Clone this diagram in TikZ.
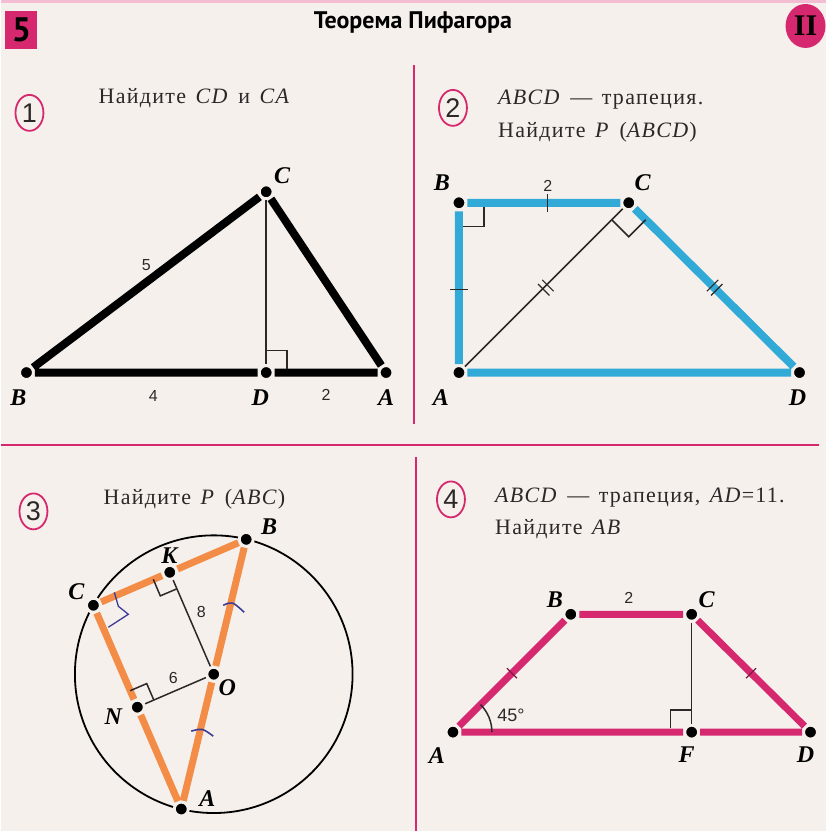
\documentclass[tikz,border=0pt]{standalone}
\usepackage{fontspec}
\setmainfont{Liberation Serif}
\setsansfont{Liberation Sans}
\newfontfamily\titlefont{PT Sans}
\newfontfamily\bodyfont[LetterSpace=6,WordSpace=1.4]{Liberation Serif}
\usetikzlibrary{calc,shapes.geometric}
\definecolor{bgc}{RGB}{245,240,235}
\definecolor{mag}{RGB}{214,40,110}
\definecolor{cyanl}{RGB}{50,170,215}
\definecolor{orng}{RGB}{242,140,70}
\definecolor{inkc}{RGB}{45,40,40}
\definecolor{penc}{RGB}{60,60,150}
\begin{document}
\begin{tikzpicture}[x=1pt,y=-1pt,
  pnt/.style={circle,fill=black,draw=bgc,line width=3pt,inner sep=0pt,minimum size=14pt},
  lbl/.style={font=\fontsize{24}{24}\selectfont\bfseries\itshape,text=black,inner sep=0pt},
  num/.style={font=\sffamily\fontsize{16}{16}\selectfont,text=inkc,inner sep=0pt},
  txt/.style={font=\bodyfont\fontsize{22}{26}\selectfont,text=inkc,anchor=west,inner sep=0pt},
  task/.style={draw=mag,line width=1.8pt,ellipse,minimum width=28pt,minimum height=36pt,inner sep=0pt,
    font=\sffamily\fontsize{27}{27}\selectfont,text=inkc},
  side/.style={line width=8pt},
  fine/.style={line width=1.5pt,draw=inkc},
  tick/.style={line width=1.2pt,draw=inkc},
  divider/.style={line width=2pt,draw=mag}]
\fill[bgc] (0,0) rectangle (825,832);
\draw[line width=3pt,mag!30] (0,1.5) -- (825,1.5);
\node[fill=mag,minimum width=32pt,minimum height=38pt,inner sep=0pt,
  font=\titlefont\bfseries\fontsize{34}{34}\selectfont] (sheet) at (20,30) {5};
\node[font=\titlefont\bfseries\fontsize{24}{24}\selectfont] (title) at (412,23) {Теорема Пифагора};
\node[fill=mag,ellipse,minimum width=40pt,minimum height=44pt,inner sep=0pt,
  font=\bfseries\fontsize{30}{30}\selectfont] (part) at (805,26) {II};
\draw[divider] (413,65) -- (413,425);
\draw[divider] (0,446) -- (818,446);
\draw[divider] (415,458) -- (415,832);

% 1
\node[task] (t1) at (28,113) {1};
\node[txt] (q1) at (97,98) {Найдите \textit{CD} и \textit{CA}};
\node[pnt] (C1) at (265,192) {};
\node[pnt] (B1) at (25,373) {};
\node[pnt] (D1) at (265,373) {};
\node[pnt] (A1) at (385,373) {};
\draw[side] (B1) -- (C1) (C1) -- (A1) (B1) -- (D1) (D1) -- (A1);
\draw[fine] (C1) -- (D1);
\draw[fine] (265,351) -- (286,351) -- (286,369);
\node[lbl] (lC1) at (281,176) {C};
\node[lbl] (lB1) at (17,398) {B};
\node[lbl] (lD1) at (259,398) {D};
\node[lbl] (lA1) at (385,398) {A};
\node[num] (s5) at (145,265) {5};
\node[num] (s4) at (152,396) {4};
\node[num] (s2) at (325,395) {2};

% 2
\node[task] (t2) at (452,108) {2};
\node[txt] (q2a) at (497,100) {\textit{ABCD} — трапеция.};
\node[txt] (q2b) at (497,132) {Найдите \textit{P} (\textit{ABCD})};
\node[pnt] (B2) at (458,203) {};
\node[pnt] (C2) at (628,203) {};
\node[pnt] (A2) at (458,373) {};
\node[pnt] (D2) at (799,373) {};
\draw[side,cyanl] (A2) -- (B2) (B2) -- (C2) (C2) -- (D2) (A2) -- (D2);
\draw[fine] (A2) -- (C2);
\draw[fine] (462,227) -- (483,227) -- (483,207);
\draw[fine] (611,220) -- (628,237) -- (645,220);
\draw[tick] (547,194) -- (547,212);
\draw[tick] (449,290) -- (467,290);
\draw[tick] (541.4,280.2) -- (552.8,291.6) (537.2,284.4) -- (548.6,295.8);
\draw[tick] (710.4,295.8) -- (721.8,284.4) (706.2,291.6) -- (717.6,280.2);
\node[lbl] (lB2) at (441,183) {B};
\node[lbl] (lC2) at (642,183) {C};
\node[lbl] (lA2) at (440,398) {A};
\node[lbl] (lD2) at (797,398) {D};
\node[num] (s2b) at (547,186) {2};

% 3
\node[task] (t3) at (32,512) {3};
\node[txt] (q3) at (102,500) {Найдите \textit{P} (\textit{ABC})};
\coordinate (ctr) at (212.5,675);
\draw[line width=1.8pt] (ctr) circle[radius=139];
\node[pnt] (O3) at (212.5,675) {};
\node[pnt] (B3) at (245,540) {};
\node[pnt] (A3) at (180,810) {};
\node[pnt] (C3) at (92,606) {};
\node[pnt] (K3) at (168.5,573) {};
\node[pnt] (N3) at (136,708) {};
\draw[side,orng,line width=7pt] (C3) -- (K3) (K3) -- (B3) (C3) -- (N3) (N3) -- (A3) (A3) -- (O3) (O3) -- (B3);
\draw[fine] (O3) -- (K3) (O3) -- (N3);
\draw[fine] (152,580) -- (159,596.6) -- (175.6,589.5);
\draw[fine] (128.9,691.5) -- (145.4,684.4) -- (152.5,700.9);
\draw[penc,line width=1.3pt] (113,593) -- (117,607) -- (127,615) -- (107,628);
\draw[penc,line width=1.6pt] (222,606) .. controls (231,602) .. (243,613);
\draw[penc,line width=1.6pt] (190,732) .. controls (201,729) .. (212,737);
\node[lbl] (lB3) at (268,527) {B};
\node[lbl] (lK3) at (168,556) {K};
\node[lbl] (lC3) at (75,592) {C};
\node[lbl] (lO3) at (226,688) {O};
\node[lbl] (lN3) at (112,718) {N};
\node[lbl] (lA3) at (206,800) {A};
\node[num] (s8) at (200,613) {8};
\node[num] (s6) at (172,679) {6};

% 4
\node[task] (t4) at (450,500) {4};
\node[txt] (q4a) at (494,498) {\textit{ABCD} — трапеция, \textit{AD}=11.};
\node[txt] (q4b) at (494,530) {Найдите \textit{AB}};
\node[pnt] (B4) at (570,615) {};
\node[pnt] (C4) at (691,615) {};
\node[pnt] (A4) at (452,733) {};
\node[pnt] (F4) at (691,733) {};
\node[pnt] (D4) at (810,733) {};
\draw[side,mag,line width=7pt] (A4) -- (B4) (B4) -- (C4) (C4) -- (D4) (A4) -- (F4) (F4) -- (D4);
\draw[fine] (C4) -- (F4);
\draw[fine] (670,729) -- (670,711) -- (691,711);
\draw[tick,mag!60!black] (506,669) -- (516,679);
\draw[tick,mag!60!black] (745.5,679) -- (755.5,669);
\draw[fine] ($(A4)+(39,0)$) arc[start angle=0,end angle=-45,radius=39];
\node[num,font=\sffamily\fontsize{18}{18}\selectfont] (ang) at (510,716) {45°};
\node[lbl] (lB4) at (554,600) {B};
\node[lbl] (lC4) at (706,600) {C};
\node[lbl] (lA4) at (436,756) {A};
\node[lbl] (lF4) at (686,756) {F};
\node[lbl] (lD4) at (805,756) {D};
\node[num] (s2c) at (628,599) {2};
\end{tikzpicture}
\end{document}
